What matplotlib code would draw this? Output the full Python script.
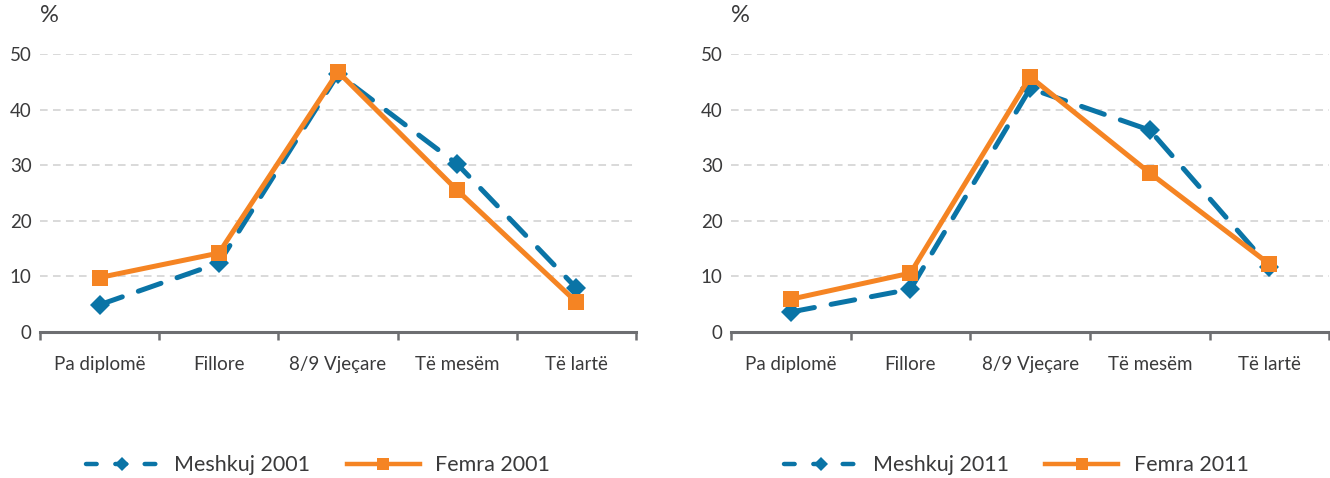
import matplotlib.pyplot as plt
from matplotlib.lines import Line2D

# education levels
categories = ['Pa diplomë', 'Fillore', '8/9 Vjeçare', 'Të mesëm', 'Të lartë']

# percentages
meshkuj_2001 = [4.9, 12.4, 46.4, 30.2, 7.9]
femra_2001 = [9.8, 14.2, 46.8, 25.5, 5.4]
meshkuj_2011 = [3.6, 7.7, 43.8, 36.3, 11.7]
femra_2011 = [5.9, 10.6, 45.9, 28.6, 12.2]

yticks = [0, 10, 20, 30, 40, 50]

blue = '#0a74a6'
orange = '#f58423'
text_col = '#3a3a3b'

plt.rcParams['font.family'] = ['Lato', 'DejaVu Sans']

fig = plt.figure(figsize=(13.3, 4.78), dpi=100)

panels = [
    ([0.0301, 0.3054, 0.4481, 0.5816], meshkuj_2001, femra_2001, '2001', 0.466),
    ([0.5496, 0.3054, 0.4499, 0.5816], meshkuj_2011, femra_2011, '2011', 0.477),
]

for rect, men, women, year, leg_x in panels:
    ax = fig.add_axes(rect)
    x = [i + 0.5 for i in range(len(categories))]

    ax.plot(x, men, color=blue, lw=3.6, linestyle=(0, (4.8, 3.4)),
            dash_capstyle='round', marker='D', markersize=10,
            markeredgewidth=0, label='Meshkuj ' + year, zorder=3)
    ax.plot(x, women, color=orange, lw=3.6, marker='s', markersize=11,
            markeredgewidth=0, label='Femra ' + year, zorder=4)

    ax.set_xlim(0, len(categories))
    ax.set_ylim(0, 50)
    ax.set_yticks(yticks)
    ax.set_xticks(range(len(categories) + 1))
    ax.set_xticklabels([])
    ax.set_xticks(x, minor=True)
    ax.set_xticklabels(categories, minor=True)
    ax.tick_params(axis='x', which='major', direction='out', length=6,
                   width=1.8, color='#6d6e71')
    ax.tick_params(axis='x', which='minor', length=0, pad=17,
                   labelsize=13.5, labelcolor=text_col)
    ax.tick_params(axis='y', length=0, pad=6, labelsize=13.5,
                   labelcolor=text_col)

    ax.grid(axis='y', color='#d0d0d0', linestyle=(0, (5, 3.5)), lw=1.1)
    ax.set_axisbelow(True)
    for s in ['top', 'right', 'left']:
        ax.spines[s].set_visible(False)
    ax.spines['bottom'].set_color('#6d6e71')
    ax.spines['bottom'].set_linewidth(2.2)
    ax.spines['bottom'].set_zorder(5)

    ax.text(0.0, 1.1, '%', transform=ax.transAxes, fontsize=17,
            color=text_col, ha='left', va='bottom')

    handles = [
        Line2D([], [], color=blue, lw=3.2, linestyle=(0, (2.4, 4.2)),
               dash_capstyle='round', marker='D', markersize=7,
               markeredgewidth=0),
        Line2D([], [], color=orange, lw=3.2, marker='s', markersize=8.5,
               markeredgewidth=0),
    ]
    ax.legend(handles, ['Meshkuj ' + year, 'Femra ' + year], loc='center',
              bbox_to_anchor=(leg_x, -0.48), ncol=2, frameon=False,
              fontsize=15.5, labelcolor=text_col, handlelength=3.4,
              handletextpad=0.7, columnspacing=1.7)

fig.savefig('out.png', dpi=100)
